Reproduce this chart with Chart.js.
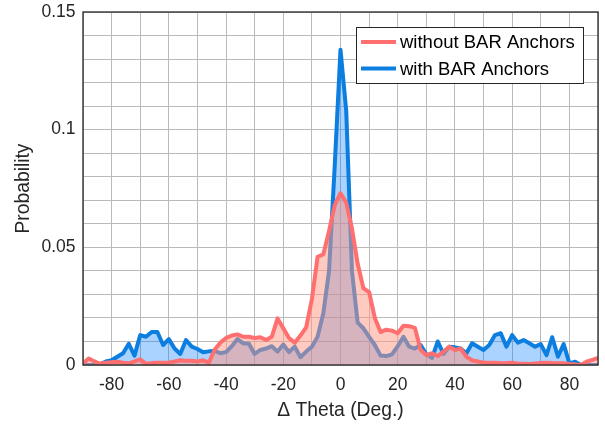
<!DOCTYPE html>
<html>
<head>
<meta charset="utf-8">
<script src="https://cdn.jsdelivr.net/npm/chart.js@4/dist/chart.umd.min.js"></script>
<style>
  html, body { margin: 0; padding: 0; background: #ffffff; }
  #wrap { width: 605px; height: 425px; }
</style>
</head>
<body>
<div id="wrap"><canvas id="chart" width="605" height="425"></canvas></div>
<script>
// Angle bins (degrees)
const theta = [
  -90, -88, -86, -84, -82, -80, -78, -76, -74, -72,
  -70, -68, -66, -64, -62, -60, -58, -56, -54, -52,
  -50, -48, -46, -44, -42, -40, -38, -36, -34, -32,
  -30, -28, -26, -24, -22, -20, -18, -16, -14, -12,
  -10, -8, -6, -4, -2, 0, 2, 4, 6, 8,
  10, 12, 14, 16, 18, 20, 22, 24, 26, 28,
  30, 32, 34, 36, 38, 40, 42, 44, 46, 48,
  50, 52, 54, 56, 58, 60, 62, 64, 66, 68,
  70, 72, 74, 76, 78, 80, 82, 84, 86, 88,
  90
];

const withoutAnchors = [
  0.0007, 0.0028, 0.0015, 0.0005, 0.001, 0.0012, 0.0014, 0.001, 0.0007, 0.0015,
  0.0024, 0.0005, 0.0008, 0.001, 0.001, 0.001, 0.0015, 0.002, 0.0018, 0.0018,
  0.0015, 0.002, 0.001, 0.0065, 0.0095, 0.0115, 0.0125, 0.013, 0.012, 0.012,
  0.0115, 0.0118, 0.0106, 0.012, 0.0198, 0.0156, 0.0115, 0.0095, 0.0125, 0.016,
  0.028, 0.046, 0.047, 0.057, 0.068, 0.073, 0.069, 0.058, 0.043, 0.0326,
  0.031, 0.02, 0.014, 0.015, 0.0146, 0.0135, 0.0167, 0.0165, 0.0158, 0.0065,
  0.0042, 0.005, 0.0038, 0.0057, 0.0078, 0.0064, 0.007, 0.0035, 0.002, 0.0015,
  0.001, 0.001, 0.001, 0.0007, 0.0008, 0.001, 0.0005, 0.0005, 0.0004, 0.0006,
  0.0008, 0.001, 0.0008, 0.0007, 0.0007, 0.0004, 0.0002, 0, 0.0014, 0.0022,
  0.003
];

const withAnchors = [
  0, 0, 0, 0.0003, 0.0015, 0.002, 0.0035, 0.005, 0.009, 0.004,
  0.0127, 0.012, 0.014, 0.014, 0.0085, 0.011, 0.007, 0.0047, 0.0106, 0.0078,
  0.0068, 0.0054, 0.0058, 0.006, 0.005, 0.0055, 0.008, 0.011, 0.0092, 0.009,
  0.0047, 0.0064, 0.007, 0.008, 0.0057, 0.0087, 0.0055, 0.0078, 0.0033, 0.0057,
  0.0078, 0.012, 0.022, 0.040, 0.085, 0.134, 0.108, 0.040, 0.018, 0.0156,
  0.012, 0.0085, 0.004, 0.0038, 0.0045, 0.008, 0.012, 0.0078, 0.007, 0.0085,
  0.0045, 0.003, 0.01, 0.0047, 0.0078, 0.0075, 0.007, 0.005, 0.0092, 0.0078,
  0.0064, 0.0085, 0.0127, 0.0135, 0.0078, 0.0127, 0.0095, 0.0106, 0.0092, 0.0078,
  0.0089, 0.0042, 0.0118, 0.0035, 0.0089, 0.0007, 0.0014, 0, 0, 0,
  0
];

const seriesNames = ['without BAR Anchors', 'with BAR Anchors'];

const FONT = "'Liberation Sans', Arial, Helvetica, sans-serif";
const colors = {
    red: '#ff6f6f',
    redFill: 'rgba(255, 150, 130, 0.5)',
    blue: '#0b7ee0',
    blueFill: 'rgba(0, 120, 255, 0.33)',
    grid: '#bababa',
    axis: '#262626',
    text: '#262626'
};

const toPoints = vals => vals.map((v, i) => ({ x: theta[i], y: v }));

// box around the plot + legend (MATLAB style, inside the axes, top right)
const framePlugin = {
    id: 'frame',
    afterDraw(chart) {
        const { ctx, chartArea: a } = chart;
        ctx.save();
        ctx.strokeStyle = colors.axis;
        ctx.lineWidth = 1.3;
        ctx.strokeRect(a.left, a.top, a.right - a.left, a.bottom - a.top);

        const bw = 227, bh = 56;
        const bx = a.right - 15 - bw, by = a.top + 15;
        ctx.fillStyle = '#ffffff';
        ctx.fillRect(bx, by, bw, bh);
        ctx.lineWidth = 1;
        ctx.strokeStyle = colors.axis;
        ctx.strokeRect(bx + 0.5, by + 0.5, bw, bh);

        ctx.font = '18.5px ' + FONT;
        ctx.textBaseline = 'middle';
        ctx.textAlign = 'left';
        chart.data.datasets.forEach((ds, i) => {
            const y = by + 15 + i * 26.6;
            ctx.strokeStyle = ds.borderColor;
            ctx.lineWidth = 4;
            ctx.beginPath();
            ctx.moveTo(bx + 5, y);
            ctx.lineTo(bx + 40, y);
            ctx.stroke();
            ctx.fillStyle = '#000000';
            ctx.fillText(ds.label, bx + 44, y + 1);
        });
        ctx.restore();
    }
};

const ctx = document.getElementById('chart').getContext('2d');
const chart = new Chart(ctx, {
    type: 'line',
    data: {
        datasets: [
            {
                label: seriesNames[0],
                data: toPoints(withoutAnchors),
                borderColor: colors.red,
                backgroundColor: colors.redFill,
                fill: 'origin',
                borderWidth: 4,
                borderJoinStyle: 'round',
                pointRadius: 0,
                tension: 0
            },
            {
                label: seriesNames[1],
                data: toPoints(withAnchors),
                borderColor: colors.blue,
                backgroundColor: colors.blueFill,
                fill: 'origin',
                borderWidth: 4,
                borderJoinStyle: 'round',
                pointRadius: 0,
                tension: 0
            }
        ]
    },
    options: {
        responsive: false,
        animation: false,
        layout: { padding: { left: 0, right: 7, top: 12, bottom: 0 } },
        plugins: {
            legend: { display: false },
            tooltip: { enabled: false }
        },
        scales: {
            x: {
                type: 'linear',
                min: -90,
                max: 90,
                afterFit: s => { s.height = 60; s.paddingLeft = 0; s.paddingRight = 0; },
                grid: { color: colors.grid, lineWidth: 1, drawTicks: false },
                border: { display: false },
                ticks: {
                    stepSize: 10,
                    autoSkip: false,
                    maxRotation: 0,
                    padding: 10,
                    color: colors.text,
                    font: { family: FONT, size: 17.5 },
                    callback: v => (v % 20 === 0 ? String(v) : '')
                },
                title: {
                    display: true,
                    text: '\u0394 Theta (Deg.)',
                    color: colors.text,
                    font: { family: FONT, size: 19.3 },
                    padding: { top: 0, bottom: 3 }
                }
            },
            y: {
                min: 0,
                max: 0.15,
                afterFit: s => { s.width = 83; s.paddingTop = 0; s.paddingBottom = 0; },
                grid: { color: colors.grid, lineWidth: 1, drawTicks: false },
                border: { display: false },
                ticks: {
                    stepSize: 0.01,
                    autoSkip: false,
                    padding: 7.5,
                    color: colors.text,
                    font: { family: FONT, size: 17.5 },
                    callback: v => {
                        const c = Math.round(v * 100);
                        return c % 5 === 0 ? String(c / 100) : '';
                    }
                },
                title: {
                    display: true,
                    text: 'Probability',
                    color: colors.text,
                    font: { family: FONT, size: 19.3 },
                    padding: { top: 12, bottom: 0 }
                }
            }
        }
    },
    plugins: [framePlugin]
});
</script>
</body>
</html>
